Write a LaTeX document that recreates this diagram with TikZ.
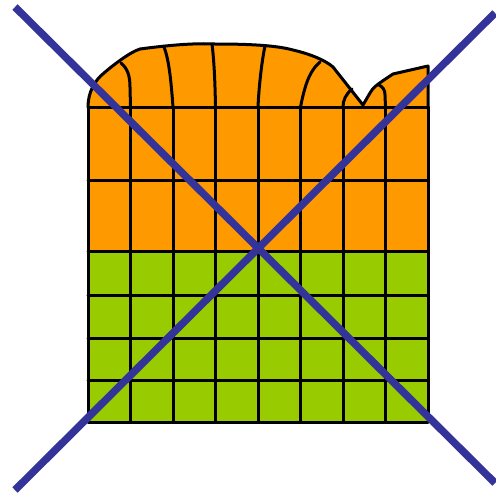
\documentclass[tikz,border=0pt]{standalone}
\usepackage{tikz}
\tikzset{
  % --- cells and outlines ----------------------------------------------------
  cellline/.style={black,line width=3pt,line cap=round,line join=round},
  topfill/.style={fill=orangetop},
  lowfill/.style={fill=greenlow},
  % --- crossing out ----------------------------------------------------------
  crossline/.style={crossblue,line width=7.5pt},
}
\definecolor{orangetop}{HTML}{FF9900}
\definecolor{greenlow}{HTML}{99CC00}
\definecolor{crossblue}{HTML}{333399}

\begin{document}
\begin{tikzpicture}[x=1pt, y=-1pt]
  \useasboundingbox (0,0) rectangle (496,493);

  % block corners
  \coordinate (tl) at (88,107);
  \coordinate (tr) at (428,107);
  \coordinate (ml) at (88,251);
  \coordinate (mr) at (428,251);
  \coordinate (bl) at (88,422);
  \coordinate (br) at (428,422);

  % ragged top of the block
  \path[topfill] (tl) .. controls (88,92) and (95,80) .. (104,73)
    .. controls (112,66) and (130,52) .. (140,49)
    .. controls (170,45) and (195,43) .. (215,44)
    .. controls (245,44) and (275,45) .. (293,50)
    .. controls (310,54) and (325,60) .. (333,67)
    -- (363,105) -- (370,93) .. controls (373,87) and (378,84) .. (393,74)
    -- (428,66) -- (tr) -- cycle;
  \fill[topfill] (tl) rectangle (mr);
  \fill[lowfill] (ml) rectangle (br);

  % grid
  \foreach \i in {0,...,8}
    \draw[cellline] ({88+42.5*\i},107) -- ({88+42.5*\i},422);
  \foreach \y in {107,180,251,295,338,380,422}
    \draw[cellline] (88,\y) -- (428,\y);

  % outline of the ragged top
  \draw[cellline] (tl) .. controls (88,92) and (95,80) .. (104,73)
    .. controls (112,66) and (130,52) .. (140,49)
    .. controls (170,45) and (195,43) .. (215,44)
    .. controls (245,44) and (275,45) .. (293,50)
    .. controls (310,54) and (325,60) .. (333,67)
    -- (363,105) -- (370,93) .. controls (373,87) and (378,84) .. (393,74)
    -- (428,66) -- (tr);

  % column lines bending up into the top
  \draw[cellline] (130.5,107) -- (130,87) .. controls (130,75) and (127,68) .. (121,63);
  \draw[cellline] (173,107) .. controls (171,80) and (169,60) .. (164,47);
  \draw[cellline] (215.5,107) .. controls (215,80) and (214,60) .. (212,44);
  \draw[cellline] (258,107) .. controls (259,85) and (262,60) .. (265,46);
  \draw[cellline] (300.5,107) .. controls (304,90) and (308,72) .. (320,62);
  \draw[cellline] (343,107) .. controls (343,100) and (346,94) .. (352,89);
  \draw[cellline] (385.5,107) -- (385,95) .. controls (385,90) and (383,87) .. (379,85);

  % the cross
  \draw[crossline] (15,7) -- (495,483);
  \draw[crossline] (495,13) -- (15,490);
\end{tikzpicture}
\end{document}
